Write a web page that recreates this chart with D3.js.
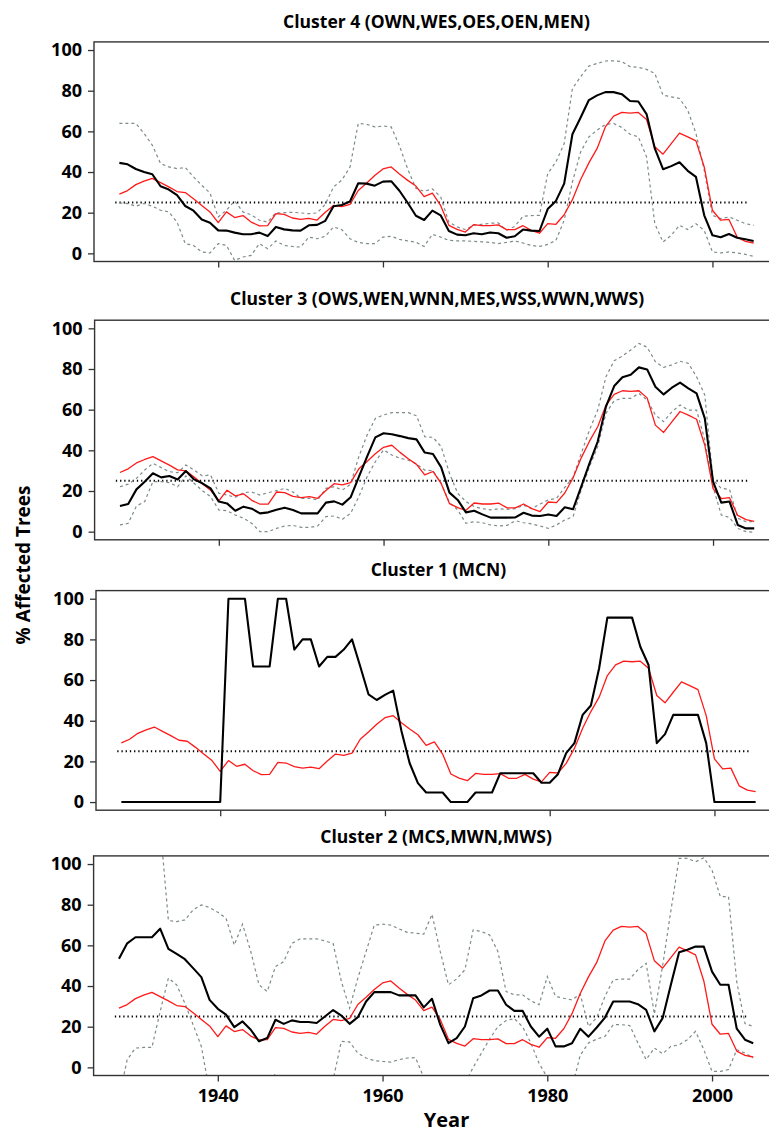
<!DOCTYPE html>
<html><head><meta charset="utf-8">
<script src="https://cdn.jsdelivr.net/npm/d3@7"></script>
<style>
body{margin:0;background:#fff}
svg{display:block}
text{font-family:"Open Sans",sans-serif;font-weight:700;fill:#000}
</style>
</head><body>
<svg id="c" width="769" height="1134"></svg>
<script>
// ---------------- DATA ----------------
const years = d3.range(1928, 2006);
const threshold = 25;
const thresholdSpan = [1927.5, 2004.3];
const xTicks = [1940, 1960, 1980, 2000];
const yTicks = [0, 20, 40, 60, 80, 100];

// all-sites mean (red)
const allSites = [
 29.1,30.9,33.8,35.5,36.9,34.8,32.7,30.4,29.9,26.9,
 23.6,20.4,15.1,20.4,17.6,18.6,15.4,13.5,13.6,19.5,
 19.2,17.4,16.7,17.2,16.4,20.2,23.6,23.0,24.1,30.9,
 34.5,38.3,41.5,42.5,39.0,35.9,33.1,27.9,29.6,23.6,
 13.8,11.8,10.5,14.1,13.6,13.6,14.0,11.7,11.7,13.6,
 11.3,9.9,14.6,14.3,19.0,26.4,36.3,44.5,51.6,62.2,
 67.5,69.3,69.0,69.3,65.8,52.4,48.8,54.0,59.1,57.3,
 55.3,42.5,21.2,16.3,16.7,8.0,5.9,5.1];

// Cluster 4
const c4Mean = [
 44.5,43.8,41.5,40.0,38.9,33.0,31.4,28.6,23.3,21.0,
 16.7,15.1,11.3,11.2,10.2,9.4,9.4,10.2,8.5,13.0,
 11.8,11.3,11.2,13.8,14.0,16.0,23.2,23.8,25.5,34.5,
 34.3,33.3,35.3,35.5,30.8,24.9,18.5,16.4,21.0,18.7,
 11.0,9.2,8.9,9.9,9.4,10.3,9.9,7.7,8.4,11.7,
 11.2,11.0,21.8,25.8,34.3,58.6,66.8,75.4,77.7,79.3,
 79.3,78.3,74.9,74.7,68.5,51.6,41.4,42.9,44.8,40.6,
 37.6,18.7,8.9,7.9,9.5,7.7,6.9,6.1];
const c4Upper = [
 63.9,63.9,63.9,59.0,53.2,44.2,42.5,41.7,42.2,37.6,
 33.5,29.7,17.9,21.2,25.8,20.4,19.0,16.3,15.4,19.9,
 20.0,20.2,19.9,19.5,19.9,24.1,32.7,36.0,42.5,63.9,
 63.5,62.2,62.6,62.2,53.0,41.5,32.0,30.5,31.7,27.8,
 15.4,13.0,11.7,13.8,14.3,14.8,15.0,11.3,13.3,18.2,
 18.6,18.7,39.2,45.0,54.0,81.1,86.9,92.1,93.4,94.6,
 94.7,94.3,91.8,91.5,90.5,88.5,77.8,77.0,76.2,70.4,
 59.0,40.9,18.7,17.1,17.9,16.3,14.6,13.8];
const c4Lower = [
 24.8,24.5,23.2,24.5,23.2,21.2,20.4,15.4,4.8,3.9,
 0.7,0.2,4.8,3.9,-3.5,-1.8,-1.0,4.8,2.3,6.1,
 3.9,3.4,3.1,8.0,7.2,8.4,13.0,11.7,7.2,5.4,
 4.8,4.8,8.0,8.4,6.9,6.1,5.5,3.4,9.4,8.0,
 6.4,6.1,6.1,5.9,5.7,5.4,4.8,5.4,6.1,5.1,
 3.9,3.4,4.4,6.4,16.3,35.1,49.9,57.3,60.6,63.4,
 63.9,61.9,58.6,57.3,47.5,14.6,5.6,8.9,13.8,11.7,
 14.6,11.3,0.7,0.2,0.7,0.2,-0.5,-1.5];

// Cluster 3
const c3Mean = [
 12.6,13.6,20.8,24.6,28.7,26.7,27.4,25.7,29.8,25.7,
 23.8,21.3,14.8,13.9,10.3,12.3,11.3,9.0,9.5,10.8,
 11.8,10.7,9.0,9.0,9.0,14.3,14.9,13.3,16.9,27.0,
 36.9,46.4,48.4,47.9,47.0,46.0,45.4,38.9,38.2,31.6,
 19.2,15.6,9.5,10.3,8.5,6.9,6.9,6.9,7.0,9.3,
 7.9,7.7,8.4,7.7,12.0,11.0,22.1,33.6,44.3,61.5,
 71.6,75.9,77.2,80.8,79.8,71.3,67.5,70.8,73.3,70.5,
 68.0,55.7,24.6,14.3,14.8,3.3,1.6,1.6];
const c3Upper = [
 22.1,23.4,26.2,30.3,33.6,31.5,29.5,29.0,32.8,30.3,
 27.4,27.9,18.9,18.0,16.9,19.2,19.5,18.0,19.2,20.2,
 21.3,19.5,16.4,16.4,15.6,21.3,22.1,20.5,23.4,36.9,
 47.5,55.7,57.4,58.5,58.5,58.5,57.0,46.7,46.4,41.8,
 28.7,18.9,14.8,12.3,11.3,10.7,11.3,11.0,11.3,13.0,
 11.3,13.6,15.6,16.4,21.8,26.7,38.5,50.0,59.8,76.2,
 84.1,86.4,89.3,92.6,90.7,83.6,80.8,82.0,83.8,82.8,
 76.2,67.2,25.4,21.3,20.8,6.6,4.9,4.9];
const c3Lower = [
 3.3,4.1,12.6,14.8,24.6,24.6,24.1,22.1,27.4,23.8,
 20.2,17.2,10.7,10.3,8.2,6.6,4.1,0.0,0.0,1.6,
 2.8,3.1,2.1,2.1,2.8,7.4,7.7,6.1,9.0,17.2,
 27.0,34.4,40.2,37.7,36.1,35.2,33.3,30.3,30.0,23.8,
 14.3,10.7,4.1,4.9,4.4,3.3,2.8,3.1,5.4,4.4,
 3.8,2.8,1.6,3.3,5.7,7.4,20.5,32.0,41.8,58.2,
 64.4,65.6,65.6,68.0,64.8,57.4,54.1,59.0,62.3,59.8,
 59.8,45.1,22.1,8.2,7.0,1.6,0.0,-0.3];

// Cluster 1 (single site, no range)
const c1Mean = [
 0,0,0,0,0,0,0,0,0,0,
 0,0,0,100,100,100,66.7,66.7,66.7,100,
 100,75.0,80.0,80.0,66.7,71.4,71.4,75.0,80.0,66.7,
 53.0,50.2,52.7,54.8,35.0,19.1,9.3,4.7,4.7,4.7,
 0,0,0,4.7,4.7,4.7,14.2,14.2,14.2,14.2,
 14.2,9.5,9.5,13.7,24.1,29.0,42.9,47.5,65.8,90.7,
 90.7,90.7,90.7,76.4,67.4,29.0,33.4,42.9,42.9,42.9,
 42.9,29.0,0,0,0,0,0,0];

// Cluster 2
const c2Mean = [
 53.4,61.0,64.0,64.0,64.0,68.2,58.3,55.8,53.2,48.8,
 44.4,33.2,28.8,25.9,19.8,22.6,18.5,12.8,14.4,23.4,
 21.4,23.1,22.3,22.3,21.8,25.0,28.2,25.5,21.4,24.7,
 32.4,37.0,37.0,37.0,35.4,35.4,35.4,29.5,33.7,21.0,
 11.9,14.4,20.1,34.0,35.4,37.8,37.8,30.8,27.8,27.8,
 20.1,15.1,19.0,10.3,10.3,11.9,19.0,15.1,19.6,24.5,
 32.4,32.4,32.4,31.1,28.3,17.7,24.2,40.6,56.6,57.8,
 59.4,59.4,47.1,40.6,40.6,19.0,13.6,11.9];
const c2Upper = [
 150,140,132,126,122,119,72.2,71.7,72.5,77.4,
 79.9,78.6,76.3,73.3,60.2,70.4,57.0,40.6,37.3,49.6,
 52.0,61.0,63.2,63.2,63.2,62.2,60.9,42.2,29.1,43.9,
 57.0,70.0,70.4,70.0,68.1,66.4,66.0,65.5,75.3,57.0,
 40.6,43.5,48.0,67.6,66.8,65.1,57.0,37.3,35.7,35.7,
 32.7,30.8,44.7,34.9,34.0,33.2,36.0,20.1,24.5,34.9,
 43.0,43.4,43.4,48.0,51.2,26.2,50.0,77.0,102.8,102.8,
 101.1,103.1,97.0,84.0,84.0,42.0,21.5,20.1];
const c2Lower = [
 -15,3.8,9.5,9.8,9.8,27.5,43.9,40.6,31.6,21.0,
 10.3,-12,-20,-20,-20,-20,-20,-15,-10,-3,
 -10,-15,-15,-15,-15,-15,-6,12.8,12.5,7.0,
 4.6,3.3,2.9,2.6,3.8,4.6,4.8,-5,-15,-15,
 -15,-15,-8,0,7.0,14.0,20.0,23.0,24.0,20.0,
 12.0,2.0,-5,-10,-10,-10,6.0,12.0,13.9,15.2,
 21.0,21.0,20.6,12.0,3.8,9.5,6.7,10.3,11.1,13.6,
 17.7,8.7,-2,-2,-1.1,8.7,7.0,4.6];

const titles = [
 "Cluster 4 (OWN,WES,OES,OEN,MEN)",
 "Cluster 3 (OWS,WEN,WNN,MES,WSS,WWN,WWS)",
 "Cluster 1 (MCN)",
 "Cluster 2 (MCS,MWN,MWS)"];

// ---------------- LAYOUT ----------------
const panels = [
 {title:titles[0], mean:c4Mean, upper:c4Upper, lower:c4Lower, left:94.0, top:41.9, titleY:28},
 {title:titles[1], mean:c3Mean, upper:c3Upper, lower:c3Lower, left:94.6, top:320.2, titleY:305},
 {title:titles[2], mean:c1Mean, upper:null, lower:null, left:96.0, top:590.6, titleY:575.5},
 {title:titles[3], mean:c2Mean, upper:c2Upper, lower:c2Lower, left:93.6, top:855.9, titleY:843}
];
const PW = 685, PH = 219.6;
const FONT = '"Open Sans", sans-serif';

const svg = d3.select("#c");

panels.forEach((p, i) => {
  const x = d3.scaleLinear().domain([1924.92, 2008.08]).range([p.left, p.left + PW]);
  const y = d3.scaleLinear().domain([-4, 104]).range([p.top + PH, p.top]);
  const g = svg.append("g");
  const clipId = "clip" + i;
  svg.append("clipPath").attr("id", clipId).append("rect")
    .attr("x", x.range()[0]).attr("y", p.top).attr("width", PW).attr("height", PH);

  const plot = g.append("g").attr("clip-path", `url(#${clipId})`);

  // threshold dotted line
  plot.append("path")
    .datum(thresholdSpan.map(t => [t, threshold]))
    .attr("d", d3.line().x(d => x(d[0])).y(d => y(d[1])))
    .attr("fill", "none").attr("stroke", "#000")
    .attr("stroke-width", 2).attr("stroke-dasharray", "1.3,2.9");

  const line = d3.line().x((d, k) => x(years[k])).y(d => y(d));

  if (p.upper) {
    [p.upper, p.lower].forEach(s => {
      plot.append("path").datum(s).attr("d", line)
        .attr("fill", "none").attr("stroke", "#7d8b8b")
        .attr("stroke-width", 1.2).attr("stroke-dasharray", "3,3");
    });
  }
  plot.append("path").datum(allSites).attr("d", line)
    .attr("fill", "none").attr("stroke", "#ff1a1a").attr("stroke-width", 1.3)
    .attr("stroke-linejoin", "round");
  plot.append("path").datum(p.mean).attr("d", line)
    .attr("fill", "none").attr("stroke", "#000").attr("stroke-width", 2.1)
    .attr("stroke-linejoin", "round");

  // frame
  g.append("rect").attr("x", x.range()[0]).attr("y", p.top)
    .attr("width", PW).attr("height", PH)
    .attr("fill", "none").attr("stroke", "#333").attr("stroke-width", 1.4);

  // y axis
  const ya = g.append("g").attr("transform", `translate(${x.range()[0]},0)`)
    .call(d3.axisLeft(y).tickValues(yTicks).tickSize(6).tickPadding(6));
  ya.select(".domain").remove();
  ya.selectAll("line").attr("stroke", "#333").attr("stroke-width", 1.3);
  ya.selectAll("text").attr("font-size", 18).attr("font-family", FONT).attr("font-weight", 700).attr("fill", "#000");

  // x axis
  const xa = g.append("g").attr("transform", `translate(0,${p.top + PH})`)
    .call(d3.axisBottom(x).tickValues(xTicks).tickSize(6).tickPadding(8)
      .tickFormat(i === 3 ? d3.format("d") : () => ""));
  xa.select(".domain").remove();
  xa.selectAll("line").attr("stroke", "#333").attr("stroke-width", 1.3);
  xa.selectAll("text").attr("font-size", 18).attr("font-family", FONT).attr("font-weight", 700).attr("fill", "#000");

  // title
  g.append("text").attr("x", p.left + PW / 2).attr("y", p.titleY)
    .attr("text-anchor", "middle").attr("font-size", 17.5).text(p.title);
});

// axis titles
svg.append("text").attr("x", 446.5).attr("y", 1127).attr("text-anchor", "middle")
  .attr("font-size", 20).text("Year");
svg.append("text").attr("transform", "translate(30,565) rotate(-90)")
  .attr("text-anchor", "middle").attr("font-size", 19).text("% Affected Trees");
</script>
</body></html>
